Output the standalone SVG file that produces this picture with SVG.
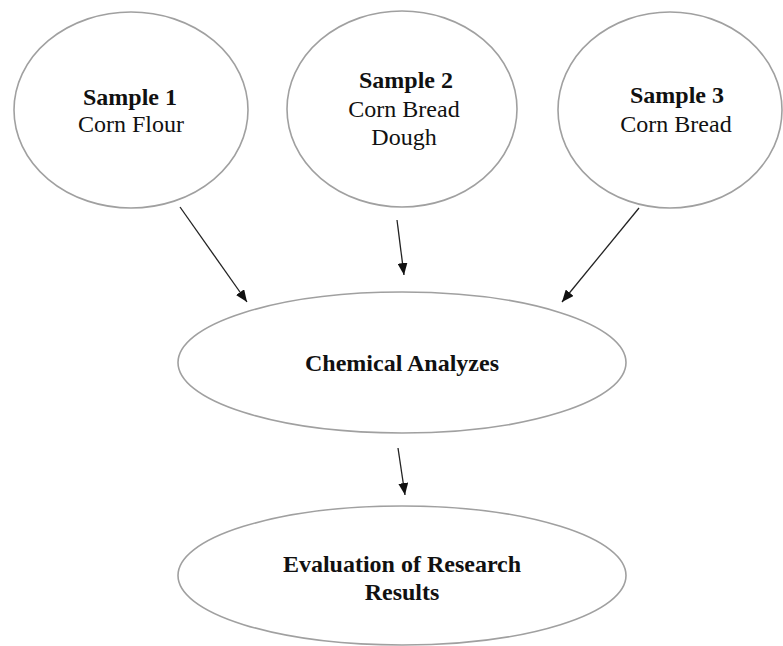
<svg xmlns="http://www.w3.org/2000/svg" width="783" height="646" viewBox="0 0 783 646">
<style>
.node ellipse{fill:#fff;stroke:#a0a0a0;stroke-width:1.6}
text{font-family:"Liberation Serif","Times New Roman",serif;font-size:24px;fill:#111;text-anchor:middle}
.b{font-weight:bold}
#connectors line{stroke:#222;stroke-width:1.3;marker-end:url(#ah)}
</style>
<defs>
<marker id="ah" viewBox="0 0 12 10" refX="12" refY="5" markerWidth="12" markerHeight="10" markerUnits="userSpaceOnUse" orient="auto">
<path d="M0,0 L12,5 L0,10 z" fill="#111"/>
</marker>
</defs>
<rect width="783" height="646" fill="#fff"/>
<g id="sample1" class="node">
<ellipse cx="131" cy="110" rx="117" ry="98"/>
<text x="130" y="105" class="b">Sample 1</text>
<text x="131" y="132">Corn Flour</text>
</g>
<g id="sample2" class="node">
<ellipse cx="402" cy="109" rx="115" ry="98"/>
<text x="406" y="88" class="b">Sample 2</text>
<text x="404" y="117">Corn Bread</text>
<text x="404" y="145">Dough</text>
</g>
<g id="sample3" class="node">
<ellipse cx="670" cy="110" rx="112" ry="98"/>
<text x="677" y="103" class="b">Sample 3</text>
<text x="676" y="132">Corn Bread</text>
</g>
<g id="chemical" class="node">
<ellipse cx="402" cy="362.5" rx="224" ry="70.5"/>
<text x="402" y="371" class="b">Chemical Analyzes</text>
</g>
<g id="evaluation" class="node">
<ellipse cx="402" cy="575.5" rx="224" ry="69.5"/>
<text x="402" y="572" class="b">Evaluation of Research</text>
<text x="402" y="600" class="b">Results</text>
</g>
<g id="connectors">
<line x1="180" y1="207" x2="247" y2="302"/>
<line x1="397" y1="220" x2="404" y2="275"/>
<line x1="639" y1="208" x2="562" y2="302"/>
<line x1="398" y1="448" x2="405" y2="495"/>
</g>
</svg>
